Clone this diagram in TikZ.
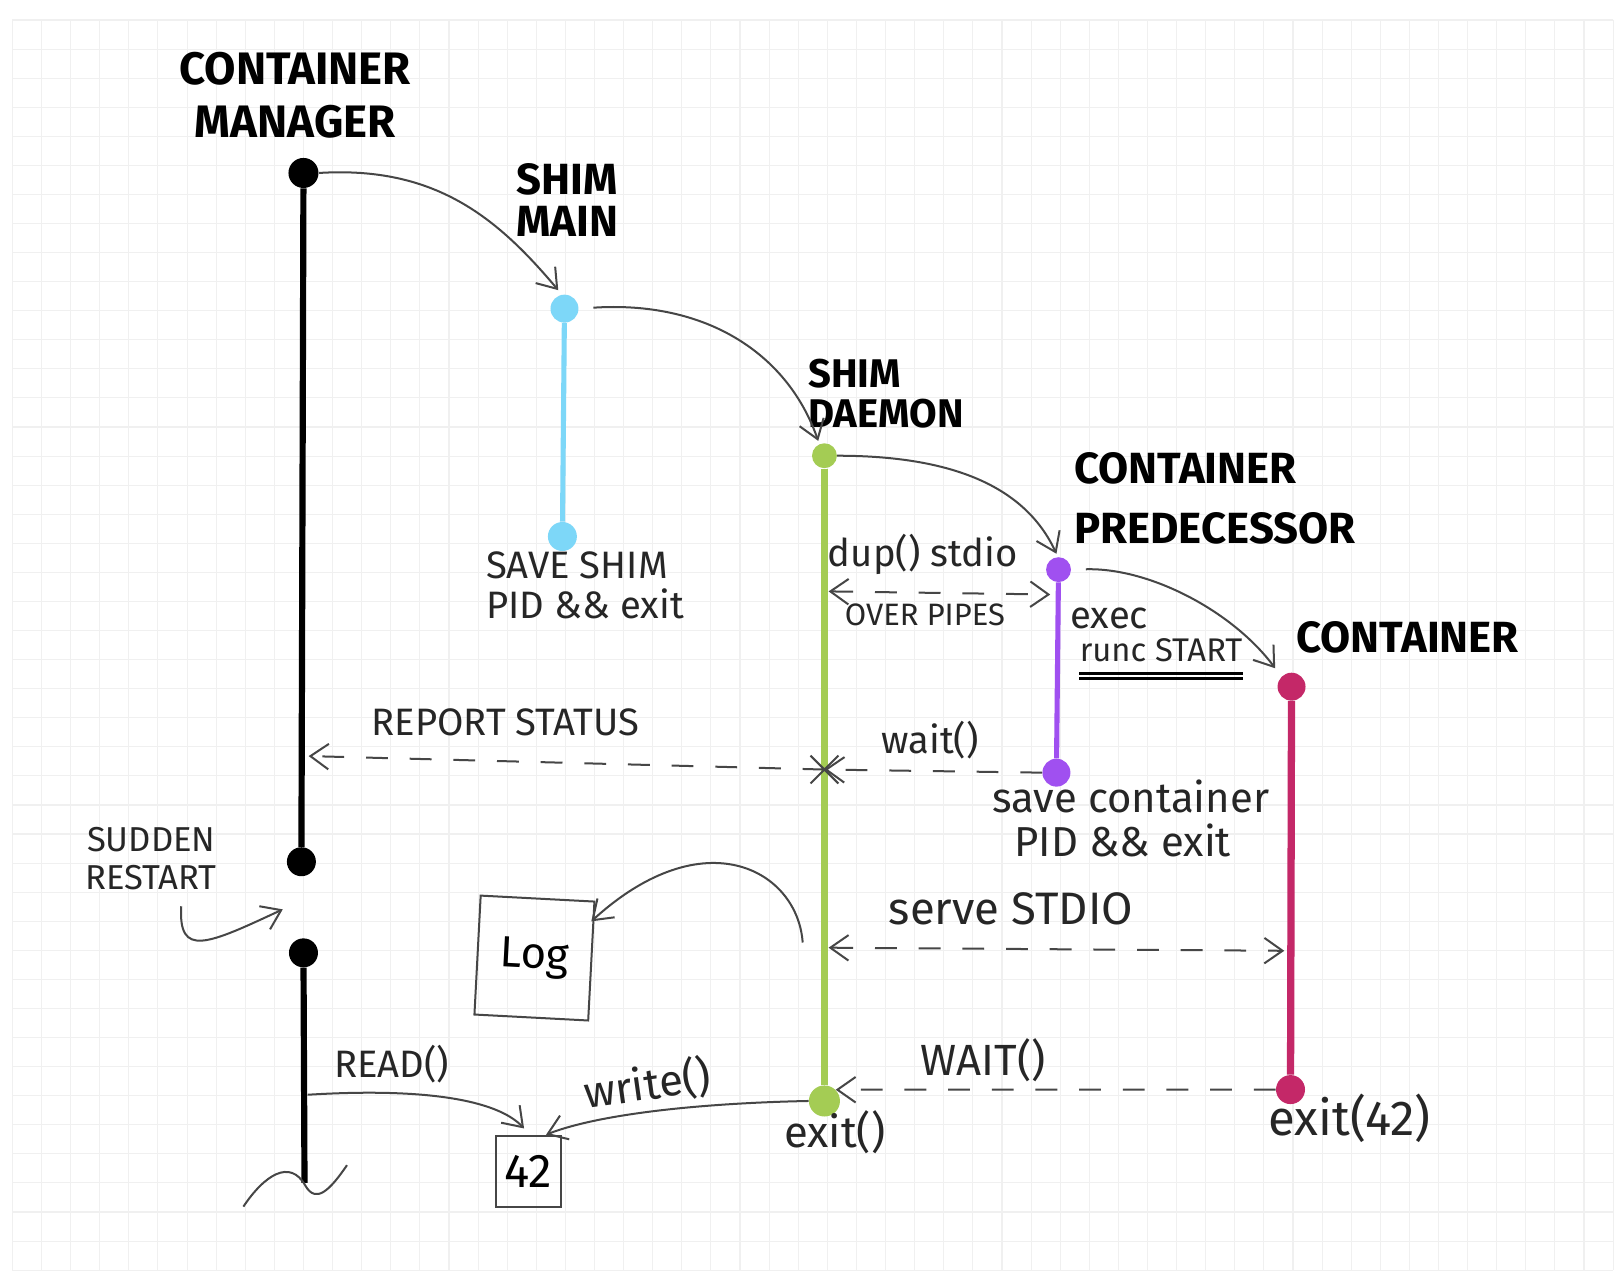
\documentclass[tikz,border=0pt]{standalone}
\usepackage{fontspec}
\setmainfont{Fira Sans}
\usetikzlibrary{arrows.meta,shapes.misc,calc}
\definecolor{shimblue}{RGB}{125,215,248}
\definecolor{daemongreen}{RGB}{164,204,84}
\definecolor{predpurple}{RGB}{160,80,240}
\definecolor{contred}{RGB}{196,40,104}
\definecolor{pen}{RGB}{70,70,70}
\tikzset{
  gridline/.style={draw=gray!12,line width=0.6pt},
  title/.style={font=\fontsize{25}{29}\selectfont\bfseries,align=left,inner sep=0pt},
  note/.style={font=\fontsize{21}{22}\selectfont,text=black!85,align=left,inner sep=0pt},
  life/.style={line width=3.4pt},
  blob/.style={circle,inner sep=0pt,minimum size=0.48cm},
  call/.style={->,draw=pen,line width=1.1pt},
  msg/.style={draw=pen,line width=1.1pt,dash pattern=on 12pt off 12pt},
  paper/.style={draw=pen,line width=1.1pt,inner sep=0pt},
}
\begin{document}
\begin{tikzpicture}[x=0.02cm,y=-0.02cm,>={Straight Barb[length=10pt,width=14pt]}]
  \fill[white] (0,0) rectangle (1568,1230);
  \useasboundingbox (0,0) rectangle (1568,1230);
  % paper grid
  \foreach \i in {0,...,55}
    \draw[gridline] ({12+28.1*\i},19.3) -- ({12+28.1*\i},1226);
  \foreach \j in {0,...,43}
    \draw[gridline] (12,{19.3+28.07*\j}) -- (1557,{19.3+28.07*\j});
  % process start / end points
  \node[blob,fill=black,minimum size=0.58cm]      (mgrA)    at (293,167)  {};
  \node[blob,fill=black,minimum size=0.56cm]      (mgrB)    at (291,832)  {};
  \node[blob,fill=black,minimum size=0.56cm]      (mgrC)    at (293,920)  {};
  \coordinate                                     (mgrD)    at (294,1142);
  \node[blob,fill=shimblue,minimum size=0.54cm]   (shimA)   at (545,298)  {};
  \node[blob,fill=shimblue,minimum size=0.56cm]   (shimB)   at (543,518)  {};
  \node[blob,fill=daemongreen]                    (daemonA) at (796,440)  {};
  \node[blob,fill=daemongreen,minimum size=0.6cm] (daemonB) at (796,1063) {};
  \node[blob,fill=predpurple]                     (predA)   at (1022,550) {};
  \node[blob,fill=predpurple,minimum size=0.54cm] (predB)   at (1020,746) {};
  \node[blob,fill=contred,minimum size=0.54cm]    (contA)   at (1247,663) {};
  \node[blob,fill=contred,minimum size=0.56cm]    (contB)   at (1246,1052){};
  % lifelines
  \draw[life,black] (mgrA) -- (mgrB);
  \draw[life,black] (mgrC) -- (mgrD);
  \draw[life,shimblue,line width=2.8pt] (shimA) -- (shimB);
  \draw[life,daemongreen,line width=4pt] (daemonA) -- (daemonB);
  \draw[life,predpurple,line width=2.8pt] (predA) -- (predB);
  \draw[life,contred,line width=4pt] (contA) -- (contB);
  % titles
  \node[title,align=center] (mgrT)  at (285,92)  {CONTAINER\\MANAGER};
  \node[title,font=\fontsize{24}{23}\selectfont\bfseries] (shimT) at (548,193) {SHIM\\MAIN};
  \node[title,font=\fontsize{22}{22}\selectfont\bfseries,anchor=west] (daemonT) at (780,380) {SHIM\\DAEMON};
  \node[title,font=\fontsize{24}{33}\selectfont\bfseries,anchor=west] (predT) at (1037,481) {CONTAINER\\PREDECESSOR};
  \node[title,font=\fontsize{24}{29}\selectfont\bfseries] (contT) at (1359,615) {CONTAINER};
  % notes
  \node[note,anchor=west] (saveshim) at (469,565) {SAVE SHIM\\PID \&\& exit};
  \node[note,anchor=west,font=\fontsize{23}{24}\selectfont] (savecont) at (958,790) {save container\\\hspace*{12pt}PID \&\& exit};
  \node[note] (dup)    at (891,535) {dup() stdio};
  \node[note,font=\fontsize{17}{20}\selectfont] (pipes) at (893,594) {OVER PIPES};
  \node[note] (exec)   at (1071,597) {exec};
  \node[note,font=\fontsize{18}{20}\selectfont] (runc) at (1121,628) {runc START};
  \node[note] (report) at (488,697) {REPORT STATUS};
  \node[note] (waitA)  at (898,715) {wait()};
  \node[note,align=center,font=\fontsize{19}{21}\selectfont] (sudden) at (146,829) {SUDDEN\\RESTART};
  \node[note,font=\fontsize{25}{26}\selectfont] (serve) at (976,877) {serve STDIO};
  \node[note] (read)   at (378,1027) {READ()};
  \node[note,rotate=8,font=\fontsize{24}{26}\selectfont] (write) at (625,1047) {write()};
  \node[note,font=\fontsize{24}{26}\selectfont] (waitB)  at (949,1024) {WAIT()};
  \node[note,font=\fontsize{24}{26}\selectfont] (exitA)  at (806,1093) {exit()};
  \node[note,font=\fontsize{27}{28}\selectfont] (exitB) at (1303,1080) {exit(42)};
  \draw[black,line width=1.6pt] ([yshift=-6pt]runc.south west) -- ([yshift=-6pt]runc.south east);
  \draw[black,line width=1.6pt] ([yshift=-9pt]runc.south west) -- ([yshift=-9pt]runc.south east);
  % files
  \node[paper,minimum width=2.2cm,minimum height=2.3cm,rotate=-3,
        font=\fontsize{24}{28}\selectfont] (logbox) at (516,925) {Log};
  \node[paper,minimum width=1.25cm,minimum height=1.38cm,
        font=\fontsize{26}{30}\selectfont] (box42) at (510,1131) {42};
  % spawning
  \draw[call] (mgrA.east) .. controls (420,160) and (480,210) .. ($(shimA.north)+(-6,-4)$);
  \draw[call,shorten <=8pt] (shimA.east) .. controls (680,290) and (760,340) .. ($(daemonA.north)+(-6,-2)$);
  \draw[call] (daemonA.east) .. controls (920,440) and (990,470) .. ($(predA.north)+(-2,-3)$);
  \draw[call,shorten <=8pt] (predA.east) .. controls (1110,548) and (1190,590) .. ($(contA.north west)+(-6,-8)$);
  % messages
  \coordinate (dupL)   at (800,571);
  \coordinate (dupR)   at (1014,574);
  \coordinate (rep)    at (298,730);
  \coordinate (serveL) at (800,915);
  \coordinate (serveR) at (1240,918);
  \node[cross out,draw=pen,line width=1.1pt,minimum size=0.5cm,inner sep=0pt] (xmark) at (796,743) {};
  \draw[msg,<->] (dupL) -- (dupR);
  \draw[msg,->] (predB.west) -- (xmark.center);
  \draw[msg,->] (xmark.center) -- (rep);
  \draw[msg,<->] (serveL) -- (serveR);
  \draw[msg,->] (contB.west) -- (daemonB.north east);
  % logging and exit code
  \coordinate (logsrc) at (775,910);
  \draw[call] (logsrc) .. controls (770,840) and (680,790) .. ($(logbox.north east)+(-4,20)$);
  \coordinate (readsrc) at (297,1057);
  \draw[call] (readsrc) .. controls (410,1050) and (480,1062) .. ($(box42.north)+(-4,-6)$);
  \draw[call] (daemonB.west) .. controls (680,1065) and (580,1075) .. ($(box42.north east)+(-15,0)$);
  % restart
  \coordinate (restartA) at (175,875);
  \coordinate (restartB) at (273,878);
  \draw[call] (restartA) .. controls (172,925) and (200,912) .. (restartB);
  \draw[pen,line width=1.1pt] (235,1165) .. controls (255,1135) and (280,1118) .. (295,1145)
    .. controls (305,1162) and (318,1150) .. (335,1125);
\end{tikzpicture}
\end{document}
